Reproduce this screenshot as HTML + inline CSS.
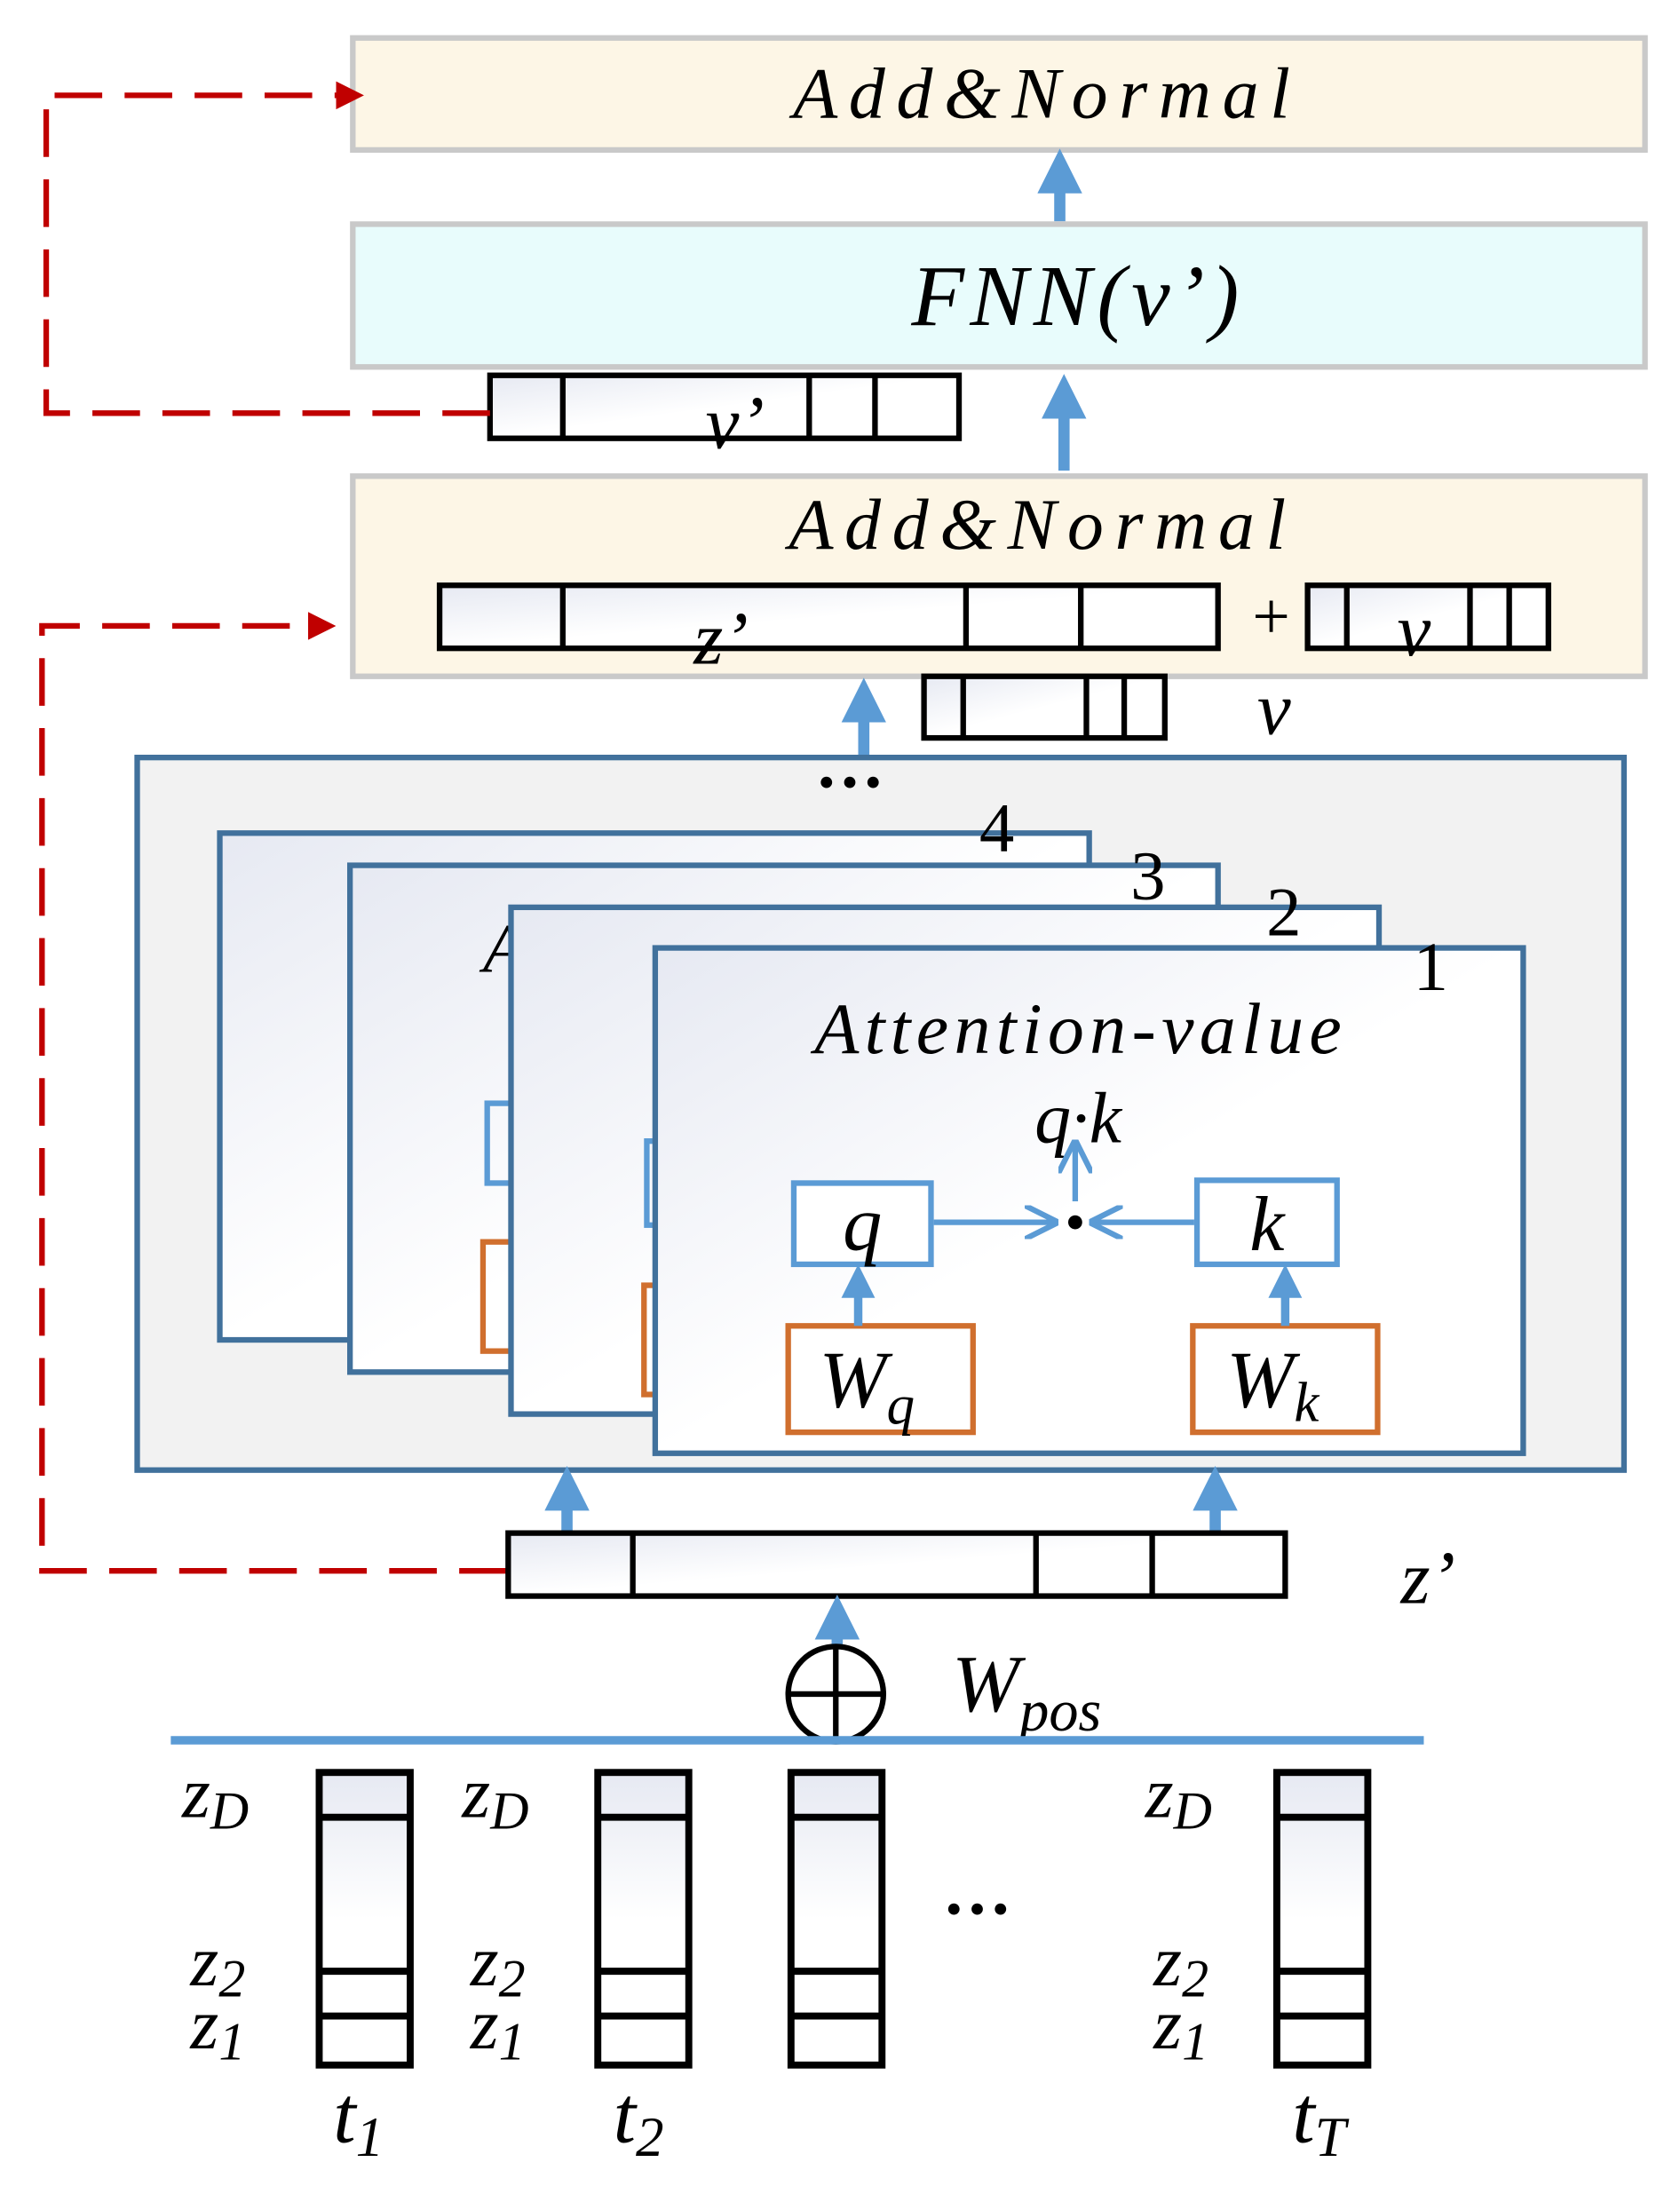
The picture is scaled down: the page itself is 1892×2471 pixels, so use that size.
<!DOCTYPE html>
<html><head><meta charset="utf-8"><style>
html,body{margin:0;padding:0;background:#fff;}
svg{display:block;}
text{font-family:"Liberation Serif","Times New Roman",serif;font-style:italic;fill:#000;}
text.n{font-style:normal;}
</style></head><body>
<svg width="1892" height="2471" viewBox="0 0 1200 1567" xmlns="http://www.w3.org/2000/svg">
<defs>
<marker id="ab" markerWidth="4" markerHeight="4" refX="2" refY="2" orient="auto" markerUnits="strokeWidth"><path d="M0,0 L4,2 L0,4 z" fill="#5b9bd5"/></marker>
<marker id="ar" markerWidth="5" markerHeight="5" refX="2.5" refY="2.5" orient="auto" markerUnits="strokeWidth"><path d="M0,0 L5,2.5 L0,5 z" fill="#c00000"/></marker>
<marker id="ao" markerWidth="6" markerHeight="6" refX="5" refY="3" orient="auto" markerUnits="strokeWidth"><path d="M0,0 L6,3 L0,6" fill="none" stroke="#5b9bd5" stroke-width="1"/></marker>
<linearGradient id="g" x1="0" y1="0" x2="1" y2="1"><stop offset="0" stop-color="#e6e9f2"/><stop offset="0.5" stop-color="#ffffff"/></linearGradient>
<linearGradient id="gv" x1="0" y1="0" x2="0" y2="1"><stop offset="0" stop-color="#e6e9f2"/><stop offset="0.5" stop-color="#ffffff"/></linearGradient>
</defs>
<rect x="252" y="27" width="923" height="80" fill="#fdf6e6" stroke="#c9c9c9" stroke-width="4"/>
<text x="748" y="84" font-size="52" text-anchor="middle" letter-spacing="8">Add&amp;Normal</text>
<line x1="757" y1="158" x2="757" y2="122" stroke="#5b9bd5" stroke-width="8" marker-end="url(#ab)"/>
<rect x="252" y="160" width="923" height="102" fill="#e8fcfc" stroke="#c9c9c9" stroke-width="4"/>
<text x="770" y="232" font-size="62" text-anchor="middle" letter-spacing="4">FNN(v’)</text>
<rect x="350" y="268" width="335" height="45" fill="url(#g)" stroke="#000" stroke-width="4"/>
<path d="M402,268V313M578,268V313M625,268V313" stroke="#000" stroke-width="4"/>
<text x="525" y="320" font-size="54" text-anchor="middle">v’</text>
<line x1="760" y1="336" x2="760" y2="283" stroke="#5b9bd5" stroke-width="8" marker-end="url(#ab)"/>
<path d="M350,295 H33 V68 H250" fill="none" stroke="#c00000" stroke-width="4" stroke-dasharray="34,16" marker-end="url(#ar)"/>
<rect x="252" y="340" width="923" height="143" fill="#fdf6e6" stroke="#c9c9c9" stroke-width="4"/>
<text x="745" y="392" font-size="52" text-anchor="middle" letter-spacing="8">Add&amp;Normal</text>
<rect x="314" y="418" width="556" height="45" fill="url(#g)" stroke="#000" stroke-width="4"/>
<path d="M402,418V463M690,418V463M772,418V463" stroke="#000" stroke-width="4"/>
<text x="515" y="474" font-size="54" text-anchor="middle">z’</text>
<text class="n" x="908" y="456" font-size="48" text-anchor="middle">+</text>
<rect x="934" y="418" width="172" height="45" fill="url(#g)" stroke="#000" stroke-width="4"/>
<path d="M962,418V463M1050,418V463M1078,418V463" stroke="#000" stroke-width="4"/>
<text x="1010" y="468" font-size="54" text-anchor="middle">v</text>
<path d="M362,1122 H30 V447 H230" fill="none" stroke="#c00000" stroke-width="4" stroke-dasharray="34,16" marker-end="url(#ar)"/>
<line x1="617" y1="542" x2="617" y2="500" stroke="#5b9bd5" stroke-width="8" marker-end="url(#ab)"/>
<rect x="660" y="483" width="172" height="44" fill="url(#g)" stroke="#000" stroke-width="4"/>
<path d="M688,483V527M776,483V527M803,483V527" stroke="#000" stroke-width="4"/>
<text x="910" y="524" font-size="54" text-anchor="middle">v</text>
<rect x="98" y="541" width="1062" height="509" fill="#f2f2f2" stroke="#41719c" stroke-width="4"/>
<text class="n" x="607" y="575" font-size="50" text-anchor="middle" font-weight="bold">···</text>
<rect x="157" y="595" width="621" height="362" fill="url(#g)" stroke="#41719c" stroke-width="4"/>
<text class="n" x="712" y="608" font-size="50" text-anchor="middle">4</text>
<rect x="250" y="618" width="620" height="362" fill="url(#g)" stroke="#41719c" stroke-width="4"/>
<text class="n" x="820" y="642" font-size="50" text-anchor="middle">3</text>
<text x="345" y="694" font-size="50">A</text>
<rect x="348" y="788" width="30" height="57" fill="none" stroke="#5b9bd5" stroke-width="4"/>
<rect x="345" y="887" width="30" height="78" fill="none" stroke="#d06f2e" stroke-width="4"/>
<rect x="365" y="648" width="620" height="362" fill="url(#g)" stroke="#41719c" stroke-width="4"/>
<text class="n" x="917" y="668" font-size="50" text-anchor="middle">2</text>
<rect x="462" y="815" width="20" height="60" fill="none" stroke="#5b9bd5" stroke-width="4"/>
<rect x="460" y="918" width="20" height="78" fill="none" stroke="#d06f2e" stroke-width="4"/>
<rect x="468" y="677" width="620" height="361" fill="url(#g)" stroke="#41719c" stroke-width="4"/>
<text class="n" x="1022" y="707" font-size="50" text-anchor="middle">1</text>
<text x="772" y="752" font-size="52" text-anchor="middle" letter-spacing="4">Attention-value</text>
<text x="770" y="816" font-size="52" text-anchor="middle">q·k</text>
<rect x="567" y="845" width="98" height="58" fill="#fff" stroke="#5b9bd5" stroke-width="4"/>
<text x="616" y="893" font-size="56" text-anchor="middle">q</text>
<rect x="855" y="843" width="100" height="60" fill="#fff" stroke="#5b9bd5" stroke-width="4"/>
<text x="905" y="893" font-size="56" text-anchor="middle">k</text>
<line x1="667" y1="873" x2="752" y2="873" stroke="#5b9bd5" stroke-width="4" marker-end="url(#ao)"/>
<line x1="853" y1="873" x2="782" y2="873" stroke="#5b9bd5" stroke-width="4" marker-end="url(#ao)"/>
<circle cx="768" cy="873" r="5" fill="#000"/>
<line x1="768" y1="858" x2="768" y2="818" stroke="#5b9bd5" stroke-width="4" marker-end="url(#ao)"/>
<rect x="563" y="947" width="132" height="76" fill="#fff" stroke="#d06f2e" stroke-width="4"/>
<text x="585" y="1005" font-size="58">W<tspan font-size="40" dy="12">q</tspan></text>
<rect x="852" y="947" width="132" height="76" fill="#fff" stroke="#d06f2e" stroke-width="4"/>
<text x="876" y="1005" font-size="58">W<tspan font-size="40" dy="10">k</tspan></text>
<line x1="613" y1="947" x2="613" y2="915" stroke="#5b9bd5" stroke-width="6" marker-end="url(#ab)"/>
<line x1="918" y1="947" x2="918" y2="915" stroke="#5b9bd5" stroke-width="6" marker-end="url(#ab)"/>
<line x1="405" y1="1095" x2="405" y2="1063" stroke="#5b9bd5" stroke-width="8" marker-end="url(#ab)"/>
<line x1="868" y1="1095" x2="868" y2="1063" stroke="#5b9bd5" stroke-width="8" marker-end="url(#ab)"/>
<rect x="363" y="1095" width="555" height="45" fill="url(#g)" stroke="#000" stroke-width="4"/>
<path d="M452,1095V1140M740,1095V1140M823,1095V1140" stroke="#000" stroke-width="4"/>
<text x="1020" y="1145" font-size="54" text-anchor="middle">z’</text>
<line x1="598" y1="1243" x2="598" y2="1155" stroke="#5b9bd5" stroke-width="8" marker-end="url(#ab)"/>
<circle cx="597" cy="1210" r="34" fill="#fff" stroke="#000" stroke-width="4"/>
<path d="M563,1210H631M597,1176V1244" stroke="#000" stroke-width="4"/>
<text x="680" y="1222" font-size="58">W<tspan font-size="42" dy="14">pos</tspan></text>
<line x1="122" y1="1243" x2="1017" y2="1243" stroke="#5b9bd5" stroke-width="6"/>
<g stroke="#000" stroke-width="5">
<rect x="228" y="1266" width="65" height="209" fill="url(#gv)"/>
<path d="M228,1298H293M228,1408H293M228,1440H293"/>
<rect x="427" y="1266" width="65" height="209" fill="url(#gv)"/>
<path d="M427,1298H492M427,1408H492M427,1440H492"/>
<rect x="565" y="1266" width="65" height="209" fill="url(#gv)"/>
<path d="M565,1298H630M565,1408H630M565,1440H630"/>
<rect x="912" y="1266" width="65" height="209" fill="url(#gv)"/>
<path d="M912,1298H977M912,1408H977M912,1440H977"/>
</g>
<g font-size="52">
<text x="130" y="1298">z<tspan font-size="38" dy="8">D</tspan></text>
<text x="136" y="1418">z<tspan font-size="38" dy="8">2</tspan></text>
<text x="136" y="1463">z<tspan font-size="38" dy="8">1</tspan></text>
<text x="330" y="1298">z<tspan font-size="38" dy="8">D</tspan></text>
<text x="336" y="1418">z<tspan font-size="38" dy="8">2</tspan></text>
<text x="336" y="1463">z<tspan font-size="38" dy="8">1</tspan></text>
<text x="818" y="1298">z<tspan font-size="38" dy="8">D</tspan></text>
<text x="824" y="1418">z<tspan font-size="38" dy="8">2</tspan></text>
<text x="824" y="1463">z<tspan font-size="38" dy="8">1</tspan></text>
<text x="238" y="1530" font-size="58">t<tspan font-size="40" dy="10">1</tspan></text>
<text x="438" y="1530" font-size="58">t<tspan font-size="40" dy="10">2</tspan></text>
<text x="923" y="1530" font-size="58">t<tspan font-size="40" dy="10">T</tspan></text>
</g>
<text class="n" x="698" y="1380" font-size="50" text-anchor="middle" font-weight="bold">···</text>
</svg>
</body></html>
